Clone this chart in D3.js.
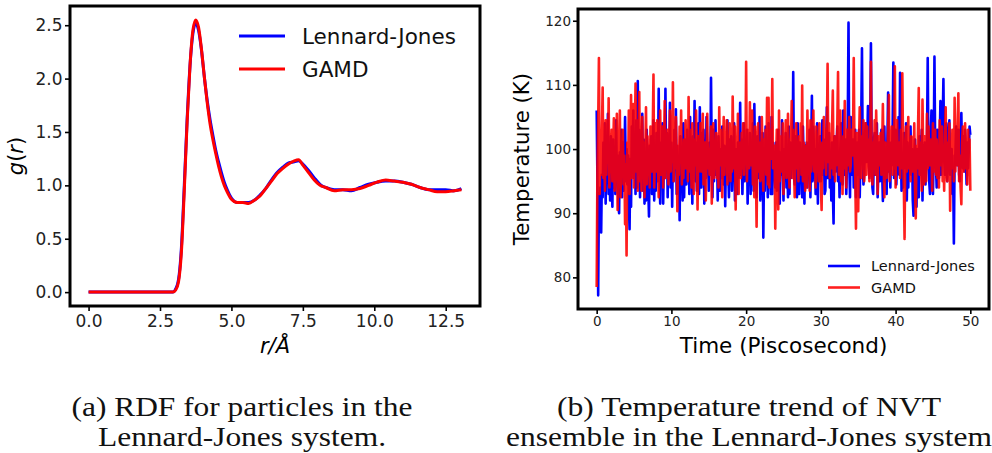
<!DOCTYPE html>
<html>
<head>
<meta charset="utf-8">
<script src="https://cdn.jsdelivr.net/npm/d3@7"></script>
<style>
  body { margin: 0; background: #fff; }
  svg { display: block; }
  .tick text { font-family: "DejaVu Sans", sans-serif; fill: #222; }
</style>
</head>
<body>
<script>
// ---- (a) radial distribution function ----
var rdfR = [0, 0.5, 1, 1.5, 2, 2.5, 2.8, 2.95, 3.05, 3.15, 3.25, 3.35, 3.45, 3.55, 3.65, 3.75, 3.85, 3.95,
  4.05, 4.15, 4.25, 4.35, 4.45, 4.55, 4.65, 4.75, 4.85, 5.0, 5.2, 5.4, 5.6, 5.8, 6.0, 6.2, 6.4, 6.6, 6.8,
  7.0, 7.2, 7.35, 7.5, 7.7, 7.9, 8.1, 8.3, 8.6, 8.9, 9.2, 9.5, 9.8, 10.1, 10.4, 10.7, 11.0, 11.3, 11.6,
  11.9, 12.2, 12.5, 12.8, 13.05];
var rdfLJ = [0, 0, 0, 0, 0, 0, 0, 0.0, 0.03, 0.12, 0.42, 1.0, 1.62, 2.12, 2.42, 2.52, 2.45, 2.27,
  2.02, 1.8, 1.62, 1.47, 1.33, 1.22, 1.12, 1.03, 0.96, 0.88, 0.84, 0.84, 0.84, 0.86, 0.91, 0.97, 1.05, 1.12, 1.17,
  1.21, 1.22, 1.23, 1.2, 1.14, 1.07, 1.01, 0.98, 0.96, 0.96, 0.95, 0.98, 1.01, 1.03, 1.04, 1.04, 1.03, 1.01, 0.98,
  0.96, 0.96, 0.96, 0.95, 0.97];
var rdfGAMD = [0, 0, 0, 0, 0, 0, 0, 0.0, 0.02, 0.1, 0.38, 0.95, 1.6, 2.12, 2.45, 2.55, 2.48, 2.28,
  2.02, 1.78, 1.58, 1.43, 1.3, 1.18, 1.08, 1.0, 0.94, 0.87, 0.84, 0.84, 0.83, 0.86, 0.9, 0.97, 1.04, 1.11, 1.16,
  1.2, 1.23, 1.24, 1.19, 1.12, 1.05, 1.0, 0.98, 0.95, 0.96, 0.96, 0.97, 1.0, 1.03, 1.05, 1.04, 1.03, 1.01, 0.98,
  0.96, 0.94, 0.94, 0.95, 0.96];
var rdfXTicks = [0, 2.5, 5, 7.5, 10, 12.5];
var rdfYTicks = [0, 0.5, 1, 1.5, 2, 2.5];

// ---- (b) NVT temperature, one sample every 0.1 ps (one row = 1 ps) ----
var timeStep = 0.1;
var tempLJ = [
  106.0, 95.0, 77.2, 93.0, 90.5, 94.0, 87.0, 96.0, 92.5, 101.0,
  95.5, 104.0, 91.5, 100.0, 96.0, 105.5, 93.0, 99.5, 92.0, 102.0,
  96.5, 91.0, 101.5, 94.0, 98.5, 93.0, 104.5, 95.5, 99.0, 92.0,
  90.0, 99.5, 94.5, 103.0, 92.5, 101.0, 93.5, 98.0, 105.0, 95.0,
  100.0, 94.5, 99.0, 92.0, 87.5, 98.5, 91.0, 103.5, 96.5, 106.0,
  95.5, 102.0, 93.0, 104.5, 94.0, 110.6, 96.0, 103.0, 92.5, 100.5,
  97.0, 105.5, 93.5, 101.5, 91.5, 99.0, 92.0, 103.0, 96.5, 94.0,
  89.5, 100.5, 95.5, 102.0, 93.0, 98.5, 104.5, 92.0, 100.0, 93.5,
  102.5, 95.0, 98.0, 109.4, 96.5, 91.5, 101.0, 94.5, 104.0, 91.5,
  99.0, 95.5, 109.4, 97.0, 102.5, 92.5, 100.0, 96.0, 107.2, 94.0,
  101.0, 91.0, 99.5, 95.0, 103.0, 97.5, 106.2, 93.0, 100.5, 95.5,
  98.0, 88.9, 102.0, 94.0, 99.0, 92.0, 104.0, 92.5, 101.5, 97.0,
  94.5, 103.0, 96.0, 100.5, 93.0, 105.0, 97.5, 99.0, 91.5, 102.0,
  96.5, 107.5, 95.0, 101.0, 93.5, 99.5, 104.0, 93.0, 106.5, 98.0,
  94.0, 102.5, 96.5, 103.0, 91.5, 100.0, 95.5, 105.0, 97.0, 99.5,
  93.5, 101.0, 96.0, 111.1, 98.5, 92.5, 103.0, 95.0, 100.5, 104.5,
  96.0, 99.5, 92.0, 102.0, 97.5, 93.5, 100.0, 95.5, 103.5, 98.0,
  94.5, 100.5, 91.1, 99.0, 96.0, 104.5, 97.0, 92.5, 101.5, 95.0,
  102.0, 93.5, 99.5, 96.5, 104.0, 92.0, 100.0, 97.5, 93.0, 101.0,
  95.5, 99.0, 107.2, 96.0, 101.5, 93.0, 98.5, 104.0, 95.0, 100.0,
  97.0, 103.0, 91.5, 99.5, 95.0, 102.5, 93.0, 100.5, 96.5, 104.0,
  93.5, 107.0, 97.0, 100.0, 92.5, 102.0, 95.5, 99.0, 105.0, 92.0,
  100.5, 96.0, 102.5, 86.2, 98.0, 93.5, 103.5, 96.0, 100.0, 92.5,
  104.0, 95.0, 99.5, 93.0, 105.0, 93.0, 101.0, 96.5, 98.0, 94.0,
  101.0, 93.5, 98.5, 103.0, 95.5, 91.5, 99.5, 96.0, 104.5, 97.0,
  92.0, 100.0, 95.5, 102.5, 94.0, 99.0, 92.5, 103.5, 93.0, 101.0,
  95.5, 99.0, 97.0, 112.0, 96.0, 94.5, 102.0, 99.0, 92.5, 104.0,
  97.5, 93.0, 101.0, 96.0, 99.5, 92.5, 103.5, 98.0, 91.5, 100.5,
  96.0, 101.0, 94.0, 99.5, 97.0, 103.0, 92.5, 100.0, 108.3, 95.0,
  103.5, 97.5, 100.0, 93.0, 98.0, 104.0, 91.5, 100.5, 96.5, 102.0,
  95.0, 99.0, 104.5, 96.0, 101.5, 93.0, 93.5, 100.0, 106.5, 95.5,
  98.0, 102.5, 94.0, 99.5, 92.0, 101.0, 93.5, 88.4, 102.0, 97.0,
  96.5, 100.5, 103.5, 95.0, 99.0, 92.5, 100.0, 104.0, 97.0, 94.5,
  106.0, 99.0, 96.0, 101.5, 93.0, 98.0, 104.0, 119.7, 98.0, 92.5,
  105.0, 96.0, 100.0, 101.5, 94.0, 98.5, 103.0, 92.5, 97.5, 101.0,
  96.0, 103.0, 92.5, 99.0, 104.5, 115.7, 99.0, 94.5, 96.0, 102.0,
  104.0, 98.0, 100.5, 106.7, 98.0, 95.5, 103.0, 116.5, 100.0, 94.0,
  93.0, 101.5, 102.5, 96.0, 99.0, 104.0, 92.5, 97.5, 101.0, 95.0,
  99.5, 103.0, 96.5, 91.9, 100.0, 103.5, 95.0, 99.0, 93.0, 101.0,
  108.8, 96.5, 100.0, 94.0, 101.0, 97.5, 103.0, 113.5, 95.5, 100.5,
  103.0, 94.5, 98.0, 101.5, 105.0, 96.0, 111.9, 100.5, 93.5, 99.0,
  94.0, 102.5, 98.0, 97.0, 104.0, 92.0, 101.0, 94.0, 99.5, 96.5,
  103.5, 96.0, 100.0, 92.0, 89.6, 99.0, 101.5, 95.0, 91.0, 100.0,
  97.0, 92.5, 102.0, 96.0, 99.5, 103.0, 92.0, 100.5, 97.0, 101.0,
  94.5, 99.0, 101.0, 114.2, 98.0, 95.0, 93.0, 102.0, 106.0, 96.5,
  93.0, 99.5, 114.4, 100.0, 97.5, 94.0, 103.0, 98.0, 95.5, 101.0,
  107.5, 96.0, 99.0, 104.0, 110.9, 98.5, 96.0, 101.5, 104.0, 95.0,
  98.5, 102.0, 104.5, 96.0, 97.0, 100.0, 93.0, 96.5, 85.3, 99.0,
  99.0, 103.5, 97.5, 100.0, 103.0, 96.0, 95.0, 101.0, 105.6, 98.5,
  97.0, 102.0, 96.5, 103.0, 99.5, 94.5, 101.0, 97.0, 100.0, 103.5,
  102.2];
var tempGAMD = [
  78.5, 97.0, 104.0, 114.2, 93.0, 101.5, 96.0, 103.0, 109.6, 95.5,
  100.0, 93.5, 104.5, 96.0, 104.5, 98.0, 107.9, 94.0, 101.0, 97.5,
  103.0, 95.0, 99.5, 104.8, 93.5, 101.0, 96.5, 105.5, 90.5, 100.0,
  97.0, 106.0, 92.5, 100.5, 96.0, 103.0, 94.5, 99.0, 88.3, 97.5,
  83.4, 101.0, 95.0, 106.0, 93.0, 99.5, 108.4, 95.5, 102.0, 107.0,
  94.0, 101.5, 110.2, 96.5, 104.5, 93.5, 100.0, 108.9, 95.0, 102.5,
  93.5, 105.0, 97.5, 101.0, 92.5, 99.0, 106.5, 94.5, 102.0, 96.0,
  100.0, 94.0, 103.5, 98.0, 96.5, 102.5, 111.6, 94.0, 99.5, 104.0,
  96.5, 104.5, 97.5, 92.5, 101.0, 106.0, 96.0, 100.5, 103.5, 94.0,
  99.0, 107.5, 95.5, 101.0, 97.0, 103.0, 94.5, 100.0, 106.0, 96.5,
  103.0, 98.0, 110.4, 95.0, 101.5, 97.0, 105.0, 99.5, 90.3, 100.5,
  96.0, 103.5, 98.0, 106.0, 94.5, 100.0, 95.5, 101.5, 97.0, 104.5,
  97.0, 102.0, 95.0, 108.1, 96.5, 103.0, 98.5, 94.0, 104.0, 99.0,
  93.0, 101.5, 97.5, 106.0, 99.0, 90.6, 102.0, 96.5, 100.5, 104.0,
  96.5, 101.0, 105.5, 94.5, 99.5, 101.0, 92.0, 98.0, 105.5, 97.0,
  100.0, 96.0, 99.5, 103.5, 91.5, 98.0, 104.0, 95.5, 101.0, 97.0,
  102.5, 95.5, 100.0, 94.0, 106.5, 97.5, 103.0, 100.0, 92.5, 99.0,
  105.0, 96.0, 101.5, 98.0, 104.5, 94.5, 100.5, 97.0, 104.0, 95.0,
  101.0, 96.5, 108.2, 99.5, 97.0, 103.5, 90.6, 101.0, 96.5, 105.5,
  93.0, 101.0, 99.0, 95.5, 102.5, 97.0, 104.0, 96.0, 100.5, 98.0,
  113.6, 95.0, 100.0, 103.0, 97.0, 107.3, 97.5, 101.0, 106.0, 94.5,
  100.0, 92.5, 103.5, 98.0, 87.9, 100.5, 104.0, 96.5, 101.0, 95.0,
  96.0, 105.0, 99.0, 93.5, 101.5, 97.0, 103.0, 96.0, 108.0, 94.5,
  108.0, 94.0, 103.0, 98.5, 101.0, 110.9, 97.0, 98.0, 100.5, 87.6,
  97.5, 103.0, 98.0, 90.6, 106.0, 95.0, 102.0, 96.5, 99.0, 104.0,
  93.0, 101.0, 97.0, 104.5, 95.5, 100.0, 105.5, 97.5, 94.0, 101.5,
  101.0, 107.5, 95.5, 103.0, 98.0, 92.5, 100.5, 104.0, 97.0, 99.5,
  95.0, 102.0, 97.5, 104.0, 96.0, 109.9, 95.0, 101.0, 98.5, 93.5,
  100.5, 94.0, 106.0, 97.5, 101.0, 93.5, 104.5, 96.5, 99.5, 102.0,
  106.0, 96.5, 101.0, 94.0, 103.5, 98.0, 100.5, 95.0, 104.0, 97.5,
  94.5, 90.5, 101.0, 97.0, 105.0, 99.0, 103.0, 96.0, 101.5, 113.3,
  98.0, 104.0, 95.5, 101.0, 97.0, 103.5, 109.1, 96.0, 101.0, 95.0,
  102.0, 97.5, 104.0, 112.0, 96.0, 98.0, 106.0, 95.0, 101.0, 93.0,
  102.0, 97.0, 107.5, 99.5, 94.0, 103.0, 97.5, 100.5, 105.0, 96.5,
  97.5, 103.0, 99.0, 101.5, 114.2, 99.0, 96.0, 87.6, 102.5, 97.0,
  90.3, 101.0, 106.5, 99.0, 95.5, 102.0, 97.0, 104.5, 95.0, 100.0,
  104.0, 96.0, 103.5, 98.0, 101.5, 95.0, 99.0, 113.6, 98.5, 94.5,
  101.0, 97.0, 104.5, 96.0, 106.0, 99.5, 93.0, 102.0, 97.5, 100.0,
  102.5, 96.0, 100.5, 107.0, 97.5, 92.5, 101.0, 100.0, 95.5, 98.5,
  103.0, 108.4, 95.0, 101.5, 97.0, 103.5, 96.0, 100.0, 97.0, 112.9,
  94.0, 101.0, 104.5, 97.5, 100.0, 101.0, 95.5, 103.0, 97.0, 111.8,
  100.0, 94.5, 86.0, 100.0, 103.5, 96.5, 101.0, 105.0, 97.0, 99.5,
  95.0, 102.0, 101.5, 96.5, 98.0, 104.0, 94.0, 89.2, 100.5, 97.0,
  103.0, 109.5, 96.0, 101.0, 97.0, 93.5, 107.7, 99.0, 94.5, 102.0,
  100.0, 95.0, 105.5, 97.0, 103.5, 99.0, 97.5, 101.5, 100.5, 93.5,
  104.0, 96.5, 99.0, 103.0, 96.0, 101.5, 95.5, 100.0, 94.0, 104.5,
  101.0, 97.5, 103.5, 95.0, 99.0, 93.5, 102.0, 106.5, 97.0, 95.0,
  101.0, 96.5, 104.0, 90.4, 100.0, 97.0, 103.0, 101.5, 95.0, 108.0,
  96.5, 102.0, 97.5, 104.0, 108.7, 95.0, 99.0, 94.0, 91.4, 101.0,
  103.5, 96.5, 100.0, 104.0, 97.0, 101.5, 94.5, 103.0, 96.0, 101.5,
  93.5];
var tempXTicks = [0, 10, 20, 30, 40, 50];
var tempYTicks = [80, 90, 100, 110, 120];

var seriesNames = ["Lennard-Jones", "GAMD"];
var captionA = ["(a) RDF for particles in the", "Lennard-Jones system."];
var captionB = ["(b) Temperature trend of NVT", "ensemble in the Lennard-Jones system"];

var width = 992, height = 453;
var blue = "#0000ff", red = "#ff0000";

var svg = d3.select("body").append("svg")
  .attr("width", width)
  .attr("height", height);

svg.append("rect").attr("width", width).attr("height", height).attr("fill", "#fff");

function styleAxis(g, size) {
  g.select(".domain").remove();
  g.selectAll(".tick line").attr("stroke", "#000").attr("stroke-width", 1.6);
  g.selectAll(".tick text").style("font-size", size + "px");
}

// ================= panel (a) =================
var ax = { left: 70, right: 480, top: 6, bottom: 306 };
var xA = d3.scaleLinear().domain([-0.65, 13.7]).range([ax.left, ax.right]);
var yA = d3.scaleLinear().domain([-0.13, 2.68]).range([ax.bottom, ax.top]);

var gA = svg.append("g").attr("class", "panel-a");

gA.append("g")
  .attr("transform", "translate(0," + ax.bottom + ")")
  .call(d3.axisBottom(xA).tickValues(rdfXTicks).tickFormat(d3.format(".1f")).tickSize(5).tickPadding(4))
  .call(styleAxis, 17);

gA.append("g")
  .attr("transform", "translate(" + ax.left + ",0)")
  .call(d3.axisLeft(yA).tickValues(rdfYTicks).tickFormat(d3.format(".1f")).tickSize(5).tickPadding(2.5))
  .call(styleAxis, 17);

var lineA = d3.line()
  .x(function(d) { return xA(d[0]); })
  .y(function(d) { return yA(d[1]); })
  .curve(d3.curveMonotoneX);

gA.append("path")
  .datum(d3.zip(rdfR, rdfLJ))
  .attr("d", lineA)
  .attr("fill", "none")
  .attr("stroke", blue)
  .attr("stroke-width", 3)
  .attr("stroke-linejoin", "round");

gA.append("path")
  .datum(d3.zip(rdfR, rdfGAMD))
  .attr("d", lineA)
  .attr("fill", "none")
  .attr("stroke", red)
  .attr("stroke-width", 3)
  .attr("stroke-linejoin", "round");

gA.append("rect")
  .attr("x", ax.left).attr("y", ax.top)
  .attr("width", ax.right - ax.left).attr("height", ax.bottom - ax.top)
  .attr("fill", "none").attr("stroke", "#000").attr("stroke-width", 3);

// legend (a)
var legA = gA.append("g");
[blue, red].forEach(function(c, i) {
  var y = 36 + i * 33;
  legA.append("line").attr("x1", 239).attr("x2", 285).attr("y1", y).attr("y2", y)
    .attr("stroke", c).attr("stroke-width", 3);
  legA.append("text").attr("x", 302).attr("y", y).attr("dy", "0.36em")
    .style("font-family", "DejaVu Sans").style("font-size", "21.5px").attr("fill", "#111")
    .text(seriesNames[i]);
});

// axis labels (a)
var ylabA = gA.append("text")
  .attr("transform", "translate(23," + ((ax.top + ax.bottom) / 2) + ") rotate(-90)")
  .attr("text-anchor", "middle")
  .style("font-family", "DejaVu Sans").style("font-size", "21px");
ylabA.append("tspan").style("font-style", "italic").text("g");
ylabA.append("tspan").text("(");
ylabA.append("tspan").style("font-style", "italic").text("r");
ylabA.append("tspan").text(")");

gA.append("text")
  .attr("x", (ax.left + ax.right) / 2).attr("y", 353)
  .attr("text-anchor", "middle")
  .style("font-family", "DejaVu Sans").style("font-size", "21px").style("font-style", "italic")
  .text("r/Å");

// ================= panel (b) =================
var bx = { left: 578, right: 989, top: 9, bottom: 309 };
var xB = d3.scaleLinear().domain([-2.5, 52.5]).range([bx.left, bx.right]);
var yB = d3.scaleLinear().domain([75.07, 121.83]).range([bx.bottom, bx.top]);

var gB = svg.append("g").attr("class", "panel-b");

gB.append("g")
  .attr("transform", "translate(0," + bx.bottom + ")")
  .call(d3.axisBottom(xB).tickValues(tempXTicks).tickSize(5).tickPadding(2.5))
  .call(styleAxis, 13.5);

gB.append("g")
  .attr("transform", "translate(" + bx.left + ",0)")
  .call(d3.axisLeft(yB).tickValues(tempYTicks).tickSize(5).tickPadding(2))
  .call(styleAxis, 13.5);

var lineB = d3.line()
  .x(function(d, i) { return xB(i * timeStep); })
  .y(function(d) { return yB(d); });

gB.append("path")
  .datum(tempLJ)
  .attr("d", lineB)
  .attr("fill", "none")
  .attr("stroke", blue)
  .attr("stroke-width", 2.6)
  .attr("stroke-linejoin", "round");

gB.append("path")
  .datum(tempGAMD)
  .attr("d", lineB)
  .attr("fill", "none")
  .attr("stroke", red)
  .attr("stroke-opacity", 0.88)
  .attr("stroke-width", 2.6)
  .attr("stroke-linejoin", "round");

gB.append("rect")
  .attr("x", bx.left).attr("y", bx.top)
  .attr("width", bx.right - bx.left).attr("height", bx.bottom - bx.top)
  .attr("fill", "none").attr("stroke", "#000").attr("stroke-width", 3);

// legend (b)
var legB = gB.append("g");
[blue, red].forEach(function(c, i) {
  var y = 266 + i * 21.5;
  legB.append("line").attr("x1", 828).attr("x2", 860).attr("y1", y).attr("y2", y)
    .attr("stroke", c).attr("stroke-opacity", i ? 0.88 : 1).attr("stroke-width", 2.6);
  legB.append("text").attr("x", 871).attr("y", y).attr("dy", "0.36em")
    .style("font-family", "DejaVu Sans").style("font-size", "14.5px").attr("fill", "#111")
    .text(seriesNames[i]);
});

gB.append("text")
  .attr("transform", "translate(529," + ((bx.top + bx.bottom) / 2) + ") rotate(-90)")
  .attr("text-anchor", "middle")
  .style("font-family", "DejaVu Sans").style("font-size", "21.3px")
  .text("Temperature (K)");

gB.append("text")
  .attr("x", (bx.left + bx.right) / 2).attr("y", 353)
  .attr("text-anchor", "middle")
  .style("font-family", "DejaVu Sans").style("font-size", "21.5px")
  .text("Time (Piscosecond)");

// ================= captions =================
function caption(lines, cx, widths) {
  lines.forEach(function(t, i) {
    svg.append("text")
      .attr("x", cx).attr("y", 416 + i * 30)
      .attr("text-anchor", "middle")
      .attr("textLength", widths[i]).attr("lengthAdjust", "spacingAndGlyphs")
      .style("font-family", "Liberation Serif, serif").style("font-size", "27px").attr("fill", "#111")
      .text(t);
  });
}
caption(captionA, 242, [341, 288]);
caption(captionB, 749, [384, 486]);
</script>
</body>
</html>
